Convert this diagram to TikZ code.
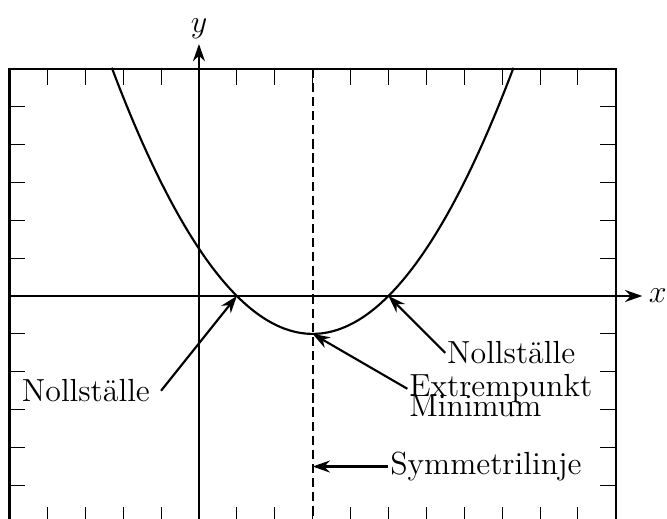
\documentclass[12pt,tikz,border=0pt]{standalone}
\usetikzlibrary{arrows.meta,positioning}
\tikzset{
  ram/.style={thick},
  streck/.style={thin},
  axel/.style={thick,-{Stealth[length=6.5pt,width=4.5pt]}},
  pil/.style={thick,-{Stealth[length=6.5pt,width=4.5pt]}},
  symlinje/.style={thick,dash pattern=on 3.5pt off 1.8pt},
  etikett/.style={inner sep=0.5pt},
}
\begin{document}
\begin{tikzpicture}[x=0.5cm,y=0.5cm]
  \clip (-5.25,-5.86) rectangle (12.35,7.81);
  % ram med streck
  \draw[ram] (-5,-6) rectangle (11,6);
  \foreach \i in {-4,...,10}{
    \draw[streck] (\i,6) -- (\i,5.58);
    \draw[streck] (\i,-6) -- (\i,-5.58);
  }
  \foreach \j in {-5,...,5}{
    \draw[streck] (-5,\j) -- (-4.58,\j);
    \draw[streck] (11,\j) -- (10.58,\j);
  }
  % axlar
  \draw[axel] (-5,0) -- (11.7,0) node[right,inner sep=2pt] (xnamn) {$x$};
  \draw[axel] (0,-6) -- (0,6.65) node[above,inner sep=1.5pt] (ynamn) {$y$};
  % symmetrilinje och parabel
  \draw[symlinje] (3,6) -- (3,-6);
  \draw[thick,domain=-2.3:8.3,samples=120] plot (\x,{(\x-1)*(\x-5)/4});
  \coordinate (nollA) at (1,0);
  \coordinate (nollB) at (5,0);
  \coordinate (min) at (3,-1);
  \coordinate (symp) at (3,-4.5);
  % etiketter
  \node[left] (nollAtxt) at (-1,-2.5) {Nollställe};
  \node[etikett,right] (nollBtxt) at (6.5,-1.5) {Nollställe};
  \node[etikett,anchor=base west] (extrtxt) at (5.5,-2.66) {Extrempunkt};
  \node[etikett,anchor=base west] (mintxt) at (5.5,-3.17) {Minimum};
  \node[etikett,right] (symtxt) at (5,-4.5) {Symmetrilinje};
  \draw[pil] (nollAtxt.east) -- (nollA);
  \draw[pil] (nollBtxt.west) -- (nollB);
  \draw[pil] (extrtxt.west) -- (min);
  \draw[pil] (symtxt.west) -- (symp);
\end{tikzpicture}
\end{document}
